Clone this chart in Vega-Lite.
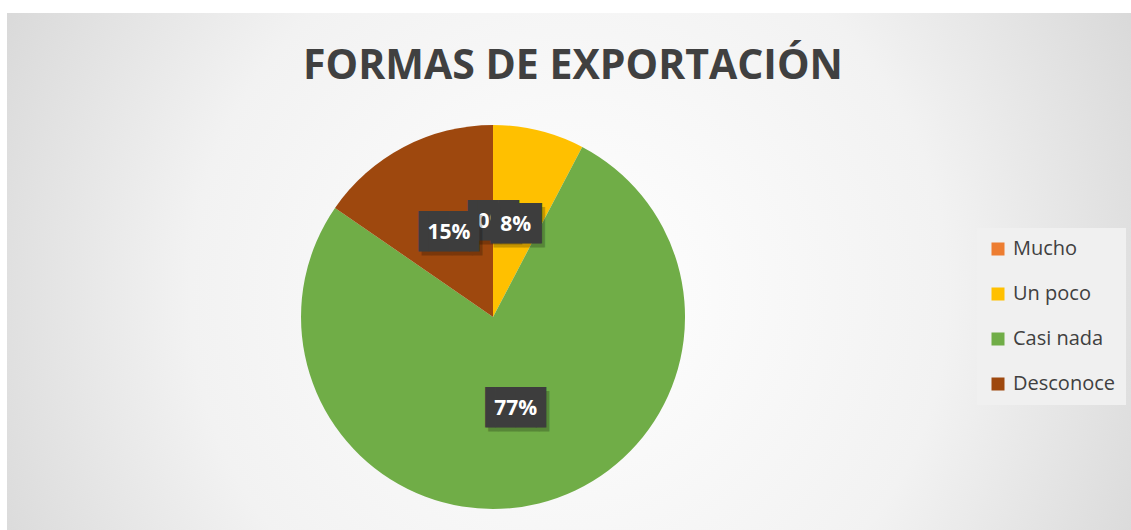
{
  "$schema": "https://vega.github.io/schema/vega-lite/v6.json",
  "width": 1131,
  "height": 530,
  "autosize": {"type": "fit", "contains": "padding"},
  "padding": {"left": 7, "top": 13, "right": 0, "bottom": 0},
  "background": "white",
  "title": {
    "text": "FORMAS DE EXPORTACIÓN",
    "font": "Open Sans",
    "fontWeight": "bold",
    "fontSize": 41,
    "color": "#404040",
    "anchor": "middle",
    "baseline": "alphabetic",
    "offset": -107,
    "dx": 4
  },
  "config": {
    "view": {"stroke": null},
    "legend": {"labelFont": "Open Sans"}
  },
  "data": {
    "values": [
      {"categoria": "Mucho", "orden": 1, "fraccion": 0},
      {"categoria": "Un poco", "orden": 2, "fraccion": 0.0769},
      {"categoria": "Casi nada", "orden": 3, "fraccion": 0.7692},
      {"categoria": "Desconoce", "orden": 4, "fraccion": 0.1538}
    ]
  },
  "layer": [
    {
      "data": {"values": [{}]},
      "mark": {
        "type": "rect",
        "color": {
          "gradient": "radial",
          "x1": 0.5, "y1": 0.52, "r1": 0,
          "x2": 0.5, "y2": 0.52, "r2": 0.75,
          "stops": [
            {"offset": 0, "color": "#ffffff"},
            {"offset": 0.45, "color": "#f2f2f2"},
            {"offset": 1, "color": "#c4c4c4"}
          ]
        }
      },
      "encoding": {}
    },
    {
      "mark": {"type": "arc", "radius": 192, "x": {"expr": "width*0.4324"}, "y": {"expr": "height*0.588"}},
      "encoding": {
        "theta": {"field": "fraccion", "type": "quantitative", "stack": true},
        "order": {"field": "orden"},
        "color": {
          "field": "categoria",
          "type": "nominal",
          "sort": null,
          "scale": {
            "domain": ["Mucho", "Un poco", "Casi nada", "Desconoce"],
            "range": ["#ED7D31", "#FFC000", "#70AD47", "#9E480E"]
          },
          "legend": {
            "title": null,
            "orient": "none",
            "legendX": 970,
            "legendY": 215,
            "symbolType": "square",
            "symbolSize": 169,
            "symbolStrokeWidth": 0,
            "labelFontSize": 20,
            "labelColor": "#404040",
            "labelOffset": 5,
            "rowPadding": 25,
            "padding": 11,
            "fillColor": "#f0f0f0"
          }
        }
      }
    },
    {
      "transform": [{"filter": "datum.categoria == 'Mucho'"}],
      "mark": {"type": "text", "font": "DejaVu Sans Mono", "fontSize": 34, "color": "#000000", "opacity": 0.22, "radius": 95, "align": "center", "baseline": "middle",
        "x": {"expr": "width*0.4324"}, "y": {"expr": "height*0.588"},
        "dx": {"expr": "length(format(datum.fraccion, '.0%')) > 2 ? 3 : -2"}, "dy": 4,
        "text": {"expr": "length(format(datum.fraccion, '.0%')) > 2 ? '▐██▌' : '▐██'"}},
      "encoding": {
        "theta": {"field": "fraccion", "type": "quantitative", "stack": true},
        "order": {"field": "orden"}
      }
    },
    {
      "transform": [{"filter": "datum.categoria == 'Mucho'"}],
      "mark": {"type": "text", "font": "DejaVu Sans Mono", "fontSize": 34, "color": "#3d3d3d", "radius": 95, "align": "center", "baseline": "middle",
        "x": {"expr": "width*0.4324"}, "y": {"expr": "height*0.588"},
        "dx": {"expr": "length(format(datum.fraccion, '.0%')) > 2 ? 0 : -5"},
        "text": {"expr": "length(format(datum.fraccion, '.0%')) > 2 ? '▐██▌' : '▐██'"}},
      "encoding": {
        "theta": {"field": "fraccion", "type": "quantitative", "stack": true},
        "order": {"field": "orden"}
      }
    },
    {
      "transform": [{"filter": "datum.categoria == 'Mucho'"}],
      "mark": {"type": "text", "font": "Open Sans", "fontWeight": "bold", "fontSize": 21, "color": "white", "radius": 95, "align": "center", "baseline": "middle",
        "x": {"expr": "width*0.4324"}, "y": {"expr": "height*0.588"}},
      "encoding": {
        "theta": {"field": "fraccion", "type": "quantitative", "stack": true},
        "order": {"field": "orden"},
        "text": {"field": "fraccion", "type": "quantitative", "format": ".0%"}
      }
    },
    {
      "mark": {"type": "text", "font": "DejaVu Sans Mono", "fontSize": 34, "color": "#000000", "opacity": 0.22, "radius": 95, "align": "center", "baseline": "middle",
        "x": {"expr": "width*0.4324"}, "y": {"expr": "height*0.588"},
        "dx": {"expr": "length(format(datum.fraccion, '.0%')) > 2 ? 3 : -2"}, "dy": 4,
        "text": {"expr": "datum.categoria == 'Mucho' ? '' : (length(format(datum.fraccion, '.0%')) > 2 ? '▐██▌' : '▐██')"}},
      "encoding": {
        "theta": {"field": "fraccion", "type": "quantitative", "stack": true},
        "order": {"field": "orden"}
      }
    },
    {
      "mark": {"type": "text", "font": "DejaVu Sans Mono", "fontSize": 34, "color": "#3d3d3d", "radius": 95, "align": "center", "baseline": "middle",
        "x": {"expr": "width*0.4324"}, "y": {"expr": "height*0.588"},
        "dx": {"expr": "length(format(datum.fraccion, '.0%')) > 2 ? 0 : -5"},
        "text": {"expr": "datum.categoria == 'Mucho' ? '' : (length(format(datum.fraccion, '.0%')) > 2 ? '▐██▌' : '▐██')"}},
      "encoding": {
        "theta": {"field": "fraccion", "type": "quantitative", "stack": true},
        "order": {"field": "orden"}
      }
    },
    {
      "transform": [{"filter": "datum.categoria != 'Mucho'"}],
      "mark": {"type": "text", "font": "Open Sans", "fontWeight": "bold", "fontSize": 21, "color": "white", "radius": 95, "align": "center", "baseline": "middle",
        "x": {"expr": "width*0.4324"}, "y": {"expr": "height*0.588"}},
      "encoding": {
        "theta": {"field": "fraccion", "type": "quantitative", "stack": true},
        "order": {"field": "orden"},
        "text": {"field": "fraccion", "type": "quantitative", "format": ".0%"}
      }
    }
  ]
}
